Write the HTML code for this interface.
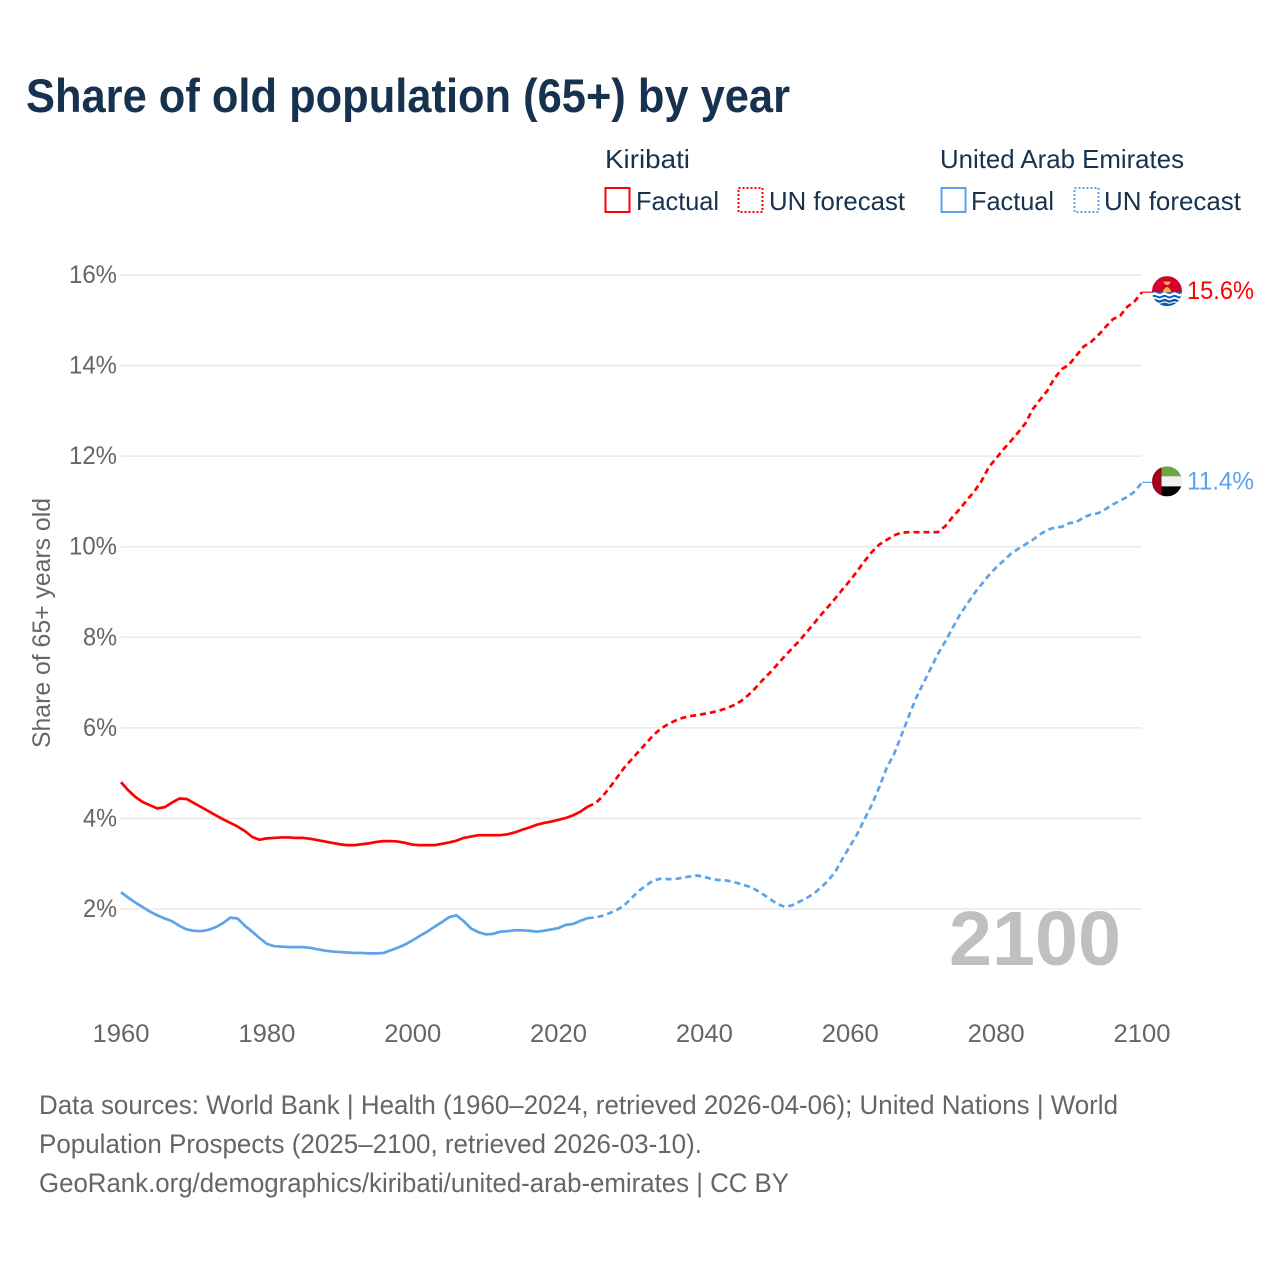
<!DOCTYPE html>
<html lang="en">
<head>
<meta charset="utf-8">
<title>Share of old population (65+) by year</title>
<style>
html,body{margin:0;padding:0;background:#fff;width:1280px;height:1280px;overflow:hidden}
svg{display:block}
text{font-family:"Liberation Sans",sans-serif}
</style>
</head>
<body>
<svg id="chart" xmlns="http://www.w3.org/2000/svg" width="1280" height="1280" viewBox="0 0 1280 1280">
  <rect width="1280" height="1280" fill="#fff"/>
  <text x="26" y="112" font-size="47" font-weight="700" fill="#17324f" textLength="764" lengthAdjust="spacingAndGlyphs">Share of old population (65+) by year</text>

  <g font-size="26" fill="#17324f">
    <text x="605" y="168" textLength="85" lengthAdjust="spacingAndGlyphs">Kiribati</text>
    <text x="940" y="168" textLength="244" lengthAdjust="spacingAndGlyphs">United Arab Emirates</text>
    <rect x="605.5" y="188" width="24" height="24" fill="none" stroke="#ff0000" stroke-width="2"/>
    <text x="636" y="210" textLength="83" lengthAdjust="spacingAndGlyphs">Factual</text>
    <rect x="738.5" y="188" width="24" height="24" fill="none" stroke="#ff0000" stroke-width="2" stroke-dasharray="2 2"/>
    <text x="769" y="210" textLength="136" lengthAdjust="spacingAndGlyphs">UN forecast</text>
    <rect x="941.5" y="188" width="24" height="24" fill="none" stroke="#5ba4ec" stroke-width="2"/>
    <text x="971" y="210" textLength="83" lengthAdjust="spacingAndGlyphs">Factual</text>
    <rect x="1074.5" y="188" width="24" height="24" fill="none" stroke="#5ba4ec" stroke-width="2" stroke-dasharray="2 2"/>
    <text x="1104" y="210" textLength="137" lengthAdjust="spacingAndGlyphs">UN forecast</text>
  </g>

  <g id="grid"></g>
  <g id="yticks" font-size="25" fill="#666"></g>
  <g id="xticks" font-size="25" fill="#666"></g>
  <text transform="translate(50,748) rotate(-90)" font-size="25" fill="#666" textLength="250" lengthAdjust="spacingAndGlyphs">Share of 65+ years old</text>

  <text x="949" y="965" font-size="77" font-weight="700" fill="#c0c0c0" textLength="172" lengthAdjust="spacingAndGlyphs">2100</text>

  <g id="series"></g>

  <g id="flag-kiribati">
    <clipPath id="clip-ki"><circle cx="0" cy="0" r="15"/></clipPath>
    <g clip-path="url(#clip-ki)">
      <rect x="-15" y="-15" width="30" height="16" fill="#d8002f"/>
      <rect x="-15" y="1" width="30" height="14" fill="#0a58b4"/>
      <path d="M-15 2q2.5 -1.5 5 0t5 0t5 0t5 0t5 0t5 0v2.5q-2.5 1.5 -5 0t-5 0t-5 0t-5 0t-5 0t-5 0z" fill="#fff"/>
      <path d="M-15 6.5q2.5 -1.5 5 0t5 0t5 0t5 0t5 0t5 0v1.8q-2.5 1.5 -5 0t-5 0t-5 0t-5 0t-5 0t-5 0z" fill="#fff"/>
      <path d="M-15 10.8q2.5 -1.2 5 0t5 0t5 0t5 0t5 0t5 0v1.2q-2.5 1.2 -5 0t-5 0t-5 0t-5 0t-5 0t-5 0z" fill="#fff"/>
      <path d="M-4 -9.5h8l-2.5 3.2h-3z" fill="#f6b73c"/>
      <path d="M-4.5 1l1.5-3 3-2.5 3 2.5 1.5 3z" fill="#f6b73c"/>
    </g>
  </g>
  <g id="flag-uae">
    <clipPath id="clip-ae"><circle cx="0" cy="0" r="15"/></clipPath>
    <g clip-path="url(#clip-ae)">
      <rect x="-15" y="-15" width="30" height="10" fill="#6da544"/>
      <rect x="-15" y="-5" width="30" height="10" fill="#f0f0f0"/>
      <rect x="-15" y="5" width="30" height="10" fill="#000"/>
      <rect x="-15" y="-15" width="9.5" height="30" fill="#a2001d"/>
    </g>
  </g>
  <text id="value-kiribati" x="1187" font-size="25" fill="#ff0000" textLength="67" lengthAdjust="spacingAndGlyphs"></text>
  <text id="value-uae" x="1187" font-size="25" fill="#5ba4ec" textLength="67" lengthAdjust="spacingAndGlyphs"></text>

  <g font-size="26.5" fill="#666">
    <text x="39" y="1114" textLength="1079" lengthAdjust="spacingAndGlyphs">Data sources: World Bank | Health (1960–2024, retrieved 2026-04-06); United Nations | World</text>
    <text x="39" y="1153" textLength="663" lengthAdjust="spacingAndGlyphs">Population Prospects (2025–2100, retrieved 2026-03-10).</text>
    <text x="39" y="1192" textLength="750" lengthAdjust="spacingAndGlyphs">GeoRank.org/demographics/kiribati/united-arab-emirates | CC BY</text>
  </g>
</svg>
<script>
const yTickValues = [2, 4, 6, 8, 10, 12, 14, 16];
const xTickYears = [1960, 1980, 2000, 2020, 2040, 2060, 2080, 2100];
const factualStartYear = 1960;
const forecastStartYear = 2024;
const kiribatiFactual = [
  4.80,4.62,4.47,4.36,4.29,4.22,4.25,4.35,4.44,4.43,
  4.34,4.25,4.16,4.07,3.98,3.90,3.82,3.72,3.59,3.53,
  3.56,3.57,3.58,3.58,3.57,3.57,3.55,3.52,3.49,3.46,
  3.43,3.41,3.41,3.43,3.45,3.48,3.50,3.50,3.49,3.46,
  3.42,3.41,3.41,3.41,3.44,3.47,3.51,3.57,3.60,3.63,
  3.63,3.63,3.63,3.65,3.69,3.75,3.80,3.86,3.90,3.93,
  3.97,4.01,4.07,4.15,4.26
];
const kiribatiForecast = [
  4.26,4.33,4.48,4.68,4.90,5.12,5.30,5.48,5.66,5.84,5.98,
  6.08,6.16,6.22,6.26,6.28,6.31,6.34,6.38,6.43,6.50,
  6.59,6.72,6.88,7.06,7.22,7.40,7.58,7.75,7.92,8.11,
  8.30,8.50,8.68,8.87,9.07,9.26,9.47,9.69,9.89,10.05,
  10.15,10.25,10.31,10.32,10.32,10.32,10.32,10.32,10.45,10.65,
  10.83,11.03,11.22,11.45,11.76,11.95,12.15,12.33,12.52,12.72,
  13.03,13.24,13.44,13.72,13.92,14.02,14.22,14.42,14.52,14.67,
  14.85,15.02,15.10,15.30,15.42,15.62
];
const uaeFactual = [
  2.37,2.25,2.14,2.04,1.94,1.86,1.79,1.73,1.63,1.55,
  1.52,1.51,1.54,1.60,1.69,1.81,1.79,1.63,1.50,1.36,
  1.23,1.18,1.17,1.16,1.16,1.16,1.14,1.11,1.08,1.06,
  1.05,1.04,1.03,1.03,1.02,1.02,1.03,1.09,1.15,1.22,
  1.31,1.41,1.50,1.61,1.71,1.82,1.86,1.73,1.57,1.49,
  1.44,1.45,1.50,1.51,1.53,1.53,1.52,1.50,1.52,1.55,
  1.58,1.65,1.67,1.74,1.80
];
const uaeForecast = [
  1.80,1.81,1.85,1.91,1.98,2.08,2.24,2.40,2.52,2.63,2.67,
  2.66,2.66,2.69,2.72,2.74,2.71,2.66,2.64,2.63,2.60,
  2.55,2.50,2.43,2.33,2.22,2.11,2.05,2.08,2.16,2.24,
  2.34,2.48,2.63,2.84,3.13,3.40,3.67,4.00,4.32,4.70,
  5.12,5.42,5.83,6.25,6.65,6.98,7.30,7.63,7.90,8.20,
  8.49,8.73,8.97,9.17,9.37,9.54,9.69,9.84,9.95,10.05,
  10.15,10.27,10.37,10.42,10.44,10.52,10.54,10.65,10.71,10.74,
  10.83,10.93,11.02,11.10,11.22,11.42
];

const SVGNS = 'http://www.w3.org/2000/svg';
const RED = '#ff0000';
const BLUE = '#5ba4ec';
function xScale(year) { return 121 + (year - 1960) * (1142 - 121) / 140; }
function yScale(v) { return 999.6 - v * 45.29; }
function pathFor(values, startYear) {
  return values.map(function (v, i) {
    return (i ? 'L' : 'M') + xScale(startYear + i).toFixed(2) + ' ' + yScale(v).toFixed(2);
  }).join('');
}

const gridGroup = document.getElementById('grid');
const yGroup = document.getElementById('yticks');
yTickValues.forEach(function (v) {
  const line = document.createElementNS(SVGNS, 'line');
  
  
  line.setAttribute('x1', xScale(1960));
  line.setAttribute('x2', xScale(2100));
  line.setAttribute('y1', yScale(v));
  line.setAttribute('y2', yScale(v));
  line.setAttribute('stroke', '#e8e8e8');
  line.setAttribute('stroke-width', '1.5');
  gridGroup.appendChild(line);

  const label = document.createElementNS(SVGNS, 'text');
  
  
  label.setAttribute('x', 117);
  label.setAttribute('y', yScale(v) + 8);
  label.setAttribute('text-anchor', 'end');
  label.setAttribute('textLength', v >= 10 ? 48 : 34);
  label.setAttribute('lengthAdjust', 'spacingAndGlyphs');
  label.textContent = v + '%';
  yGroup.appendChild(label);
});

const xGroup = document.getElementById('xticks');
xTickYears.forEach(function (year) {
  const label = document.createElementNS(SVGNS, 'text');
  
  
  label.setAttribute('x', xScale(year));
  label.setAttribute('y', 1042);
  label.setAttribute('text-anchor', 'middle');
  label.setAttribute('textLength', 57);
  label.setAttribute('lengthAdjust', 'spacingAndGlyphs');
  label.textContent = year;
  xGroup.appendChild(label);
});

const seriesGroup = document.getElementById('series');
function addLine(name, d, color, dash, width) {
  const p = document.createElementNS(SVGNS, 'path');
  
  
  p.setAttribute('d', d);
  p.setAttribute('fill', 'none');
  p.setAttribute('stroke', color);
  p.setAttribute('stroke-width', width);
  p.setAttribute('stroke-linejoin', 'round');
  if (dash) p.setAttribute('stroke-dasharray', dash);
  seriesGroup.appendChild(p);
}
addLine('line-uae-factual', pathFor(uaeFactual, factualStartYear), BLUE, '', 2.7);
addLine('line-uae-forecast', pathFor(uaeForecast, forecastStartYear), BLUE, '6 4', 2.7);
addLine('line-kiribati-factual', pathFor(kiribatiFactual, factualStartYear), RED, '', 2.7);
addLine('line-kiribati-forecast', pathFor(kiribatiForecast, forecastStartYear), RED, '6 4', 2.7);

function placeEnd(values, color, flagId, valueId, connectorName) {
  const last = values[values.length - 1];
  const y = yScale(last);
  addLine(connectorName, 'M' + xScale(2100) + ' ' + y + 'H1152', color, '', 1.2);
  document.getElementById(flagId).setAttribute('transform', 'translate(1167,' + (y - 1) + ')');
  const t = document.getElementById(valueId);
  t.setAttribute('y', y + 7);
  t.textContent = last.toFixed(1) + '%';
}
placeEnd(kiribatiForecast, RED, 'flag-kiribati', 'value-kiribati', 'connector-kiribati');
placeEnd(uaeForecast, BLUE, 'flag-uae', 'value-uae', 'connector-uae');
</script>
</body>
</html>
